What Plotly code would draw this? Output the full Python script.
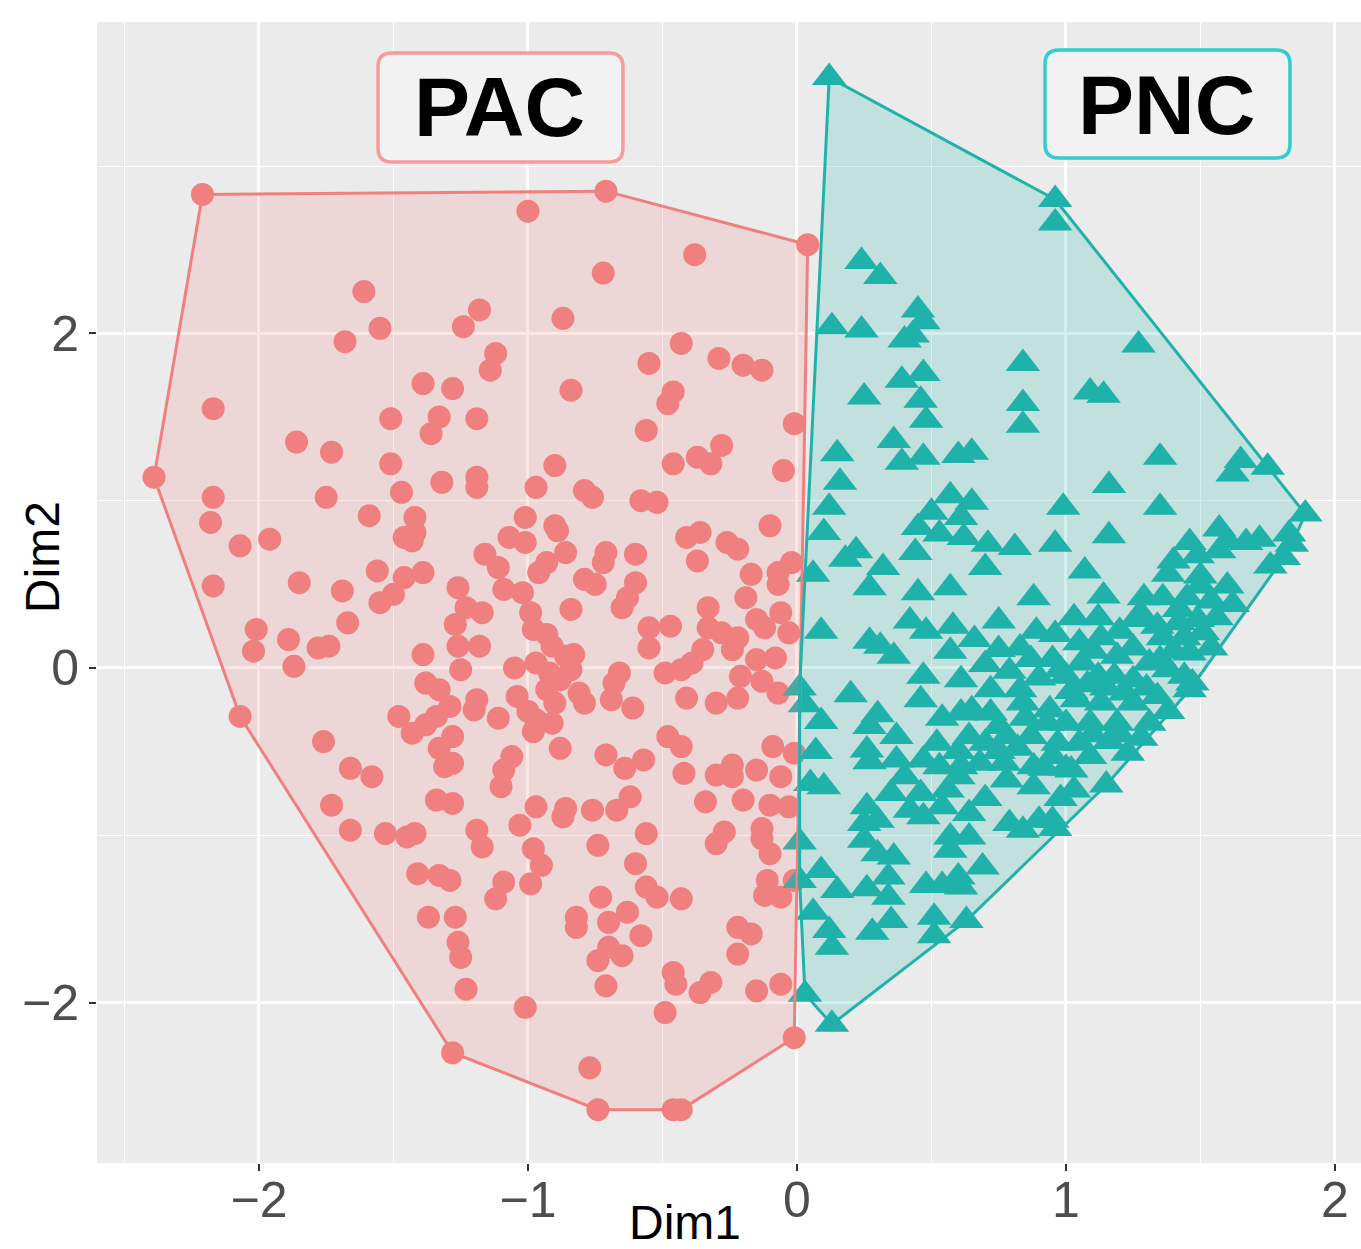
import plotly.graph_objects as go

# ---------------- data (Dim1, Dim2) ----------------
group_names = ["PAC", "PNC"]

pac_points = [
    (-2.21, 2.83), (-0.71, 2.85), (0.04, 2.53), (-0.01, -2.21), (-0.43, -2.64),
    (-0.46, -2.64), (-0.74, -2.64), (-1.28, -2.30), (-2.07, -0.29), (-2.39, 1.14),
    (-1.00, 2.73), (-0.38, 2.47), (-0.72, 2.36), (-1.61, 2.25), (-1.18, 2.14),
    (-1.55, 2.03), (-1.68, 1.95), (-1.24, 2.04), (-0.87, 2.09), (-1.12, 1.88),
    (-1.14, 1.78), (-0.43, 1.94), (-0.55, 1.82), (-0.29, 1.85), (-0.20, 1.81),
    (-0.13, 1.78), (-1.39, 1.70), (-1.28, 1.67), (-0.84, 1.66), (-0.46, 1.65),
    (-0.48, 1.58), (-2.17, 1.55), (-1.51, 1.49), (-1.33, 1.50), (-1.19, 1.49),
    (-0.01, 1.46), (-1.36, 1.40), (-0.56, 1.42), (-1.86, 1.35), (-0.28, 1.33),
    (-1.73, 1.29), (-0.37, 1.26), (-0.32, 1.22), (-0.46, 1.22), (-1.51, 1.22),
    (-0.90, 1.21), (-0.05, 1.18), (-1.19, 1.14), (-1.32, 1.11), (-1.19, 1.08),
    (-0.97, 1.08), (-0.79, 1.06), (-1.47, 1.05), (-0.76, 1.02), (-2.17, 1.02),
    (-1.75, 1.02), (-0.58, 1.00), (-0.52, 0.99),
    (-2.18, 0.87), (-2.07, 0.73), (-1.96, 0.77), (-1.59, 0.91), (-1.42, 0.90),
    (-1.46, 0.78), (-1.42, 0.81), (-1.43, 0.76), (-2.17, 0.49), (-1.85, 0.51),
    (-1.69, 0.46), (-1.56, 0.58), (-1.46, 0.54), (-1.39, 0.57), (-1.50, 0.44),
    (-1.55, 0.39), (-1.26, 0.48), (-1.23, 0.36), (-1.16, 0.68), (-1.67, 0.27),
    (-2.01, 0.23), (-2.02, 0.10), (-1.89, 0.17), (-1.87, 0.01), (-1.78, 0.12),
    (-1.74, 0.13), (-1.39, 0.08), (-1.27, 0.26), (-1.26, 0.13), (-1.18, 0.13),
    (-1.25, -0.01), (-1.38, -0.09), (-1.33, -0.13), (-1.48, -0.29), (-1.43, -0.39),
    (-1.38, -0.34), (-1.34, -0.29), (-1.29, -0.23), (-1.20, -0.25), (-1.19, -0.19),
    (-1.28, -0.41), (-1.33, -0.48), (-1.31, -0.59), (-1.28, -0.57), (-1.76, -0.44),
    (-1.66, -0.60), (-1.58, -0.65), (-1.73, -0.82), (-1.34, -0.79), (-1.28, -0.81),
    (-1.01, 0.90), (-0.90, 0.85), (-0.89, 0.82), (-1.07, 0.78), (-1.01, 0.75),
    (-0.86, 0.69), (-1.11, 0.60), (-0.93, 0.63), (-0.96, 0.57), (-0.71, 0.69),
    (-0.72, 0.63), (-0.60, 0.68), (-0.79, 0.53), (-0.75, 0.50), (-0.60, 0.51),
    (-0.63, 0.42), (-0.65, 0.36), (-0.41, 0.78), (-0.36, 0.81), (-0.37, 0.64),
    (-0.26, 0.75), (-0.22, 0.71), (-0.10, 0.85), (-0.02, 0.63), (-0.07, 0.57),
    (-0.17, 0.56), (-0.07, 0.50), (-0.19, 0.42), (-1.09, 0.47), (-1.02, 0.45),
    (-1.17, 0.33), (-0.99, 0.33), (-0.84, 0.35), (-0.98, 0.23), (-0.93, 0.20),
    (-1.05, 0.00), (-0.97, 0.03), (-0.91, 0.13), (-0.86, 0.07), (-0.83, 0.08),
    (-0.92, -0.03), (-0.88, -0.07), (-0.84, -0.01), (-0.93, -0.13), (-0.81, -0.15),
    (-0.79, -0.21), (-1.04, -0.17), (-1.11, -0.30), (-1.00, -0.26), (-0.97, -0.31),
    (-0.91, -0.33), (-0.98, -0.38), (-0.90, -0.21), (-0.88, -0.48), (-0.68, -0.09),
    (-0.66, -0.03), (-0.69, -0.19), (-0.61, -0.24), (-0.55, 0.24), (-0.47, 0.25),
    (-0.55, 0.12), (-0.49, -0.03), (-0.43, -0.01), (-0.39, 0.03), (-0.35, 0.11),
    (-0.33, 0.36), (-0.33, 0.24), (-0.28, 0.21), (-0.22, 0.18), (-0.24, 0.11),
    (-0.15, 0.29), (-0.12, 0.24), (-0.06, 0.33), (-0.03, 0.21), (-0.15, 0.05),
    (-0.08, 0.06), (-0.21, -0.05), (-0.13, -0.08), (-0.07, -0.15), (-0.22, -0.18),
    (-0.30, -0.21), (-0.41, -0.18), (-0.48, -0.41), (-0.43, -0.47), (-0.71, -0.52),
    (-0.64, -0.60), (-0.57, -0.55), (-1.06, -0.53), (-1.09, -0.61), (-1.10, -0.71),
    (-0.42, -0.63), (-0.30, -0.64), (-0.24, -0.58), (-0.24, -0.65), (-0.15, -0.61),
    (-0.09, -0.47), (-0.01, -0.51), (-0.06, -0.65), (-0.62, -0.77), (-0.97, -0.83),
    (-0.86, -0.84), (-0.76, -0.85), (-0.67, -0.85), (-0.34, -0.80), (-0.20, -0.79),
    (-0.10, -0.82), (-0.03, -0.83),
    (-1.66, -0.97), (-1.53, -0.99), (-1.45, -1.01), (-1.42, -0.99), (-1.19, -0.97),
    (-1.17, -1.07), (-1.41, -1.23), (-1.33, -1.24), (-1.29, -1.27), (-1.37, -1.49),
    (-1.27, -1.49), (-1.26, -1.64), (-1.25, -1.73), (-1.23, -1.92),
    (-1.03, -0.94), (-0.87, -0.89), (-0.56, -0.99), (-0.74, -1.06), (-0.98, -1.08),
    (-0.95, -1.18), (-0.60, -1.17), (-1.09, -1.28), (-1.12, -1.38), (-0.99, -1.29),
    (-0.73, -1.37), (-0.56, -1.31), (-0.52, -1.37), (-0.43, -1.38), (-0.63, -1.46),
    (-0.82, -1.49), (-0.82, -1.55), (-0.70, -1.52), (-0.58, -1.60), (-0.70, -1.67),
    (-0.74, -1.75), (-0.65, -1.72), (-0.71, -1.90), (-0.46, -1.82), (-0.45, -1.89),
    (-0.36, -1.94), (-0.32, -1.88), (-0.15, -1.93), (-0.06, -1.89), (-0.22, -1.55),
    (-0.17, -1.59), (-0.22, -1.71), (-1.01, -2.03), (-0.49, -2.06), (-0.77, -2.39),
    (-0.30, -1.05), (-0.27, -0.98), (-0.13, -0.96), (-0.13, -1.02), (-0.10, -1.11),
    (-0.11, -1.27), (-0.12, -1.36), (-0.06, -1.37), (-0.01, -1.27),
]

pnc_points = [
    (0.12, 3.53), (0.96, 2.80), (0.96, 2.66), (0.24, 2.43), (0.31, 2.34),
    (0.13, 2.04), (0.24, 2.02), (0.45, 2.14), (0.47, 2.07), (0.40, 1.96),
    (0.43, 1.99), (0.84, 1.82), (0.39, 1.72), (0.47, 1.76), (1.27, 1.93),
    (0.25, 1.62), (0.46, 1.60), (0.48, 1.48), (0.84, 1.58), (0.84, 1.45),
    (0.15, 1.28), (0.36, 1.36), (0.39, 1.23), (0.47, 1.26), (0.60, 1.27),
    (0.65, 1.29), (0.16, 1.11), (0.12, 0.96), (0.10, 0.81), (0.18, 0.65),
    (0.22, 0.70), (0.06, 0.56), (0.32, 0.60), (0.27, 0.48), (0.57, 1.03),
    (0.65, 0.99), (0.50, 0.93), (0.45, 0.84), (0.53, 0.80), (0.61, 0.90),
    (0.62, 0.78), (0.44, 0.69), (0.71, 0.74), (0.81, 0.72), (0.70, 0.60),
    (0.99, 0.96), (0.96, 0.74), (0.45, 0.45), (0.57, 0.48), (0.88, 0.42),
    (0.09, 0.22), (0.42, 0.28), (0.48, 0.22), (0.27, 0.16), (0.31, 0.13),
    (0.36, 0.07), (0.58, 0.25), (0.57, 0.10), (0.75, 0.28), (0.89, 0.22),
    (0.66, 0.17), (0.75, 0.11), (0.83, 0.12), (0.87, 0.05), (0.70, 0.02),
    (0.79, -0.02), (0.90, -0.06), (0.61, -0.07), (0.72, -0.13), (0.83, -0.13),
    (0.47, -0.05), (0.96, 0.20),
    (1.09, 1.65), (1.14, 1.63), (1.35, 1.26), (1.16, 1.09), (1.65, 1.24),
    (1.62, 1.16), (1.75, 1.20), (1.35, 0.96), (1.89, 0.92), (1.16, 0.79),
    (1.57, 0.83), (1.60, 0.76), (1.67, 0.75), (1.72, 0.77), (1.83, 0.80),
    (1.84, 0.74), (1.81, 0.66), (1.76, 0.61), (1.57, 0.70), (1.46, 0.75),
    (1.40, 0.64), (1.38, 0.56), (1.49, 0.67), (1.07, 0.58), (1.14, 0.43),
    (1.50, 0.49), (1.60, 0.49), (1.45, 0.42), (1.54, 0.40), (1.62, 0.38),
    (1.29, 0.42), (1.36, 0.42), (1.26, 0.29), (1.34, 0.25), (1.42, 0.27),
    (1.49, 0.29), (1.56, 0.30), (1.03, 0.30), (1.12, 0.30), (1.05, 0.15),
    (1.13, 0.18), (1.19, 0.07), (1.25, 0.12), (1.36, 0.18), (1.44, 0.18),
    (1.51, 0.21), (1.54, 0.12), (1.46, 0.09), (1.31, 0.03), (1.38, -0.01),
    (1.44, -0.05), (1.47, -0.09), (0.98, -0.01), (1.06, 0.03), (1.12, -0.05),
    (1.18, -0.05), (1.25, -0.07), (1.02, -0.14),
    (0.20, -0.16), (0.46, -0.19), (0.03, -0.22), (0.09, -0.32), (0.30, -0.28),
    (0.27, -0.35), (0.37, -0.41), (0.54, -0.30), (0.61, -0.27), (0.65, -0.25),
    (0.72, -0.27), (0.84, -0.21), (0.93, -0.33), (0.78, -0.41), (0.87, -0.41),
    (0.64, -0.41), (0.07, -0.50), (0.26, -0.49), (0.27, -0.56), (0.37, -0.55),
    (0.47, -0.55), (0.53, -0.59), (0.61, -0.59), (0.68, -0.57), (0.77, -0.57),
    (0.88, -0.59), (0.95, -0.53), (0.78, -0.67), (0.88, -0.71), (0.05, -0.69),
    (0.10, -0.71), (0.35, -0.75), (0.46, -0.75), (0.56, -0.73), (0.42, -0.85),
    (0.47, -0.89), (0.54, -0.83), (0.64, -0.87), (0.26, -0.83), (0.25, -0.93),
    (0.30, -0.91), (0.79, -0.93), (0.84, -0.97), (0.90, -0.91), (0.95, -0.91),
    (0.01, -1.04), (0.25, -1.03), (0.57, -1.01), (0.64, -1.01), (0.57, -1.09),
    (0.30, -1.11), (0.36, -1.13), (0.09, -1.21), (0.01, -1.27), (0.15, -1.33),
    (0.26, -1.32), (0.34, -1.25), (0.34, -1.37), (0.48, -1.30), (0.54, -1.30),
    (0.60, -1.25), (0.61, -1.31), (0.69, -1.19), (0.06, -1.46), (0.35, -1.51),
    (0.28, -1.58), (0.51, -1.49), (0.51, -1.60), (0.63, -1.51), (0.12, -1.57),
    (0.13, -1.67), (0.03, -1.95), (0.13, -2.13),
    (0.96, -0.96), (1.15, -0.70), (1.03, -0.73), (1.02, -0.61), (1.09, -0.53),
    (1.23, -0.51), (1.16, -0.44), (0.97, -0.45), (1.00, -0.33), (1.09, -0.33),
    (1.19, -0.33), (1.31, -0.33), (1.38, -0.26), (1.25, -0.21), (1.34, -0.17),
    (1.46, -0.13), (1.04, -0.19), (1.13, -0.21), (0.94, -0.25), (0.01, -0.12),
    # dense overlapping cluster, bottom right
    (0.70, -0.45), (0.75, -0.50), (0.82, -0.48), (0.92, -0.60), (1.00, -0.60),
    (1.05, -0.45), (1.10, -0.40), (1.20, -0.40), (1.28, -0.42), (1.08, -0.10),
    (1.15, -0.12), (1.22, -0.15), (1.30, -0.12), (1.35, 0.05), (1.40, 0.10),
    (1.20, 0.22), (1.28, 0.32), (1.10, 0.10), (0.95, 0.05), (1.00, -0.05),
    (0.85, -0.30), (0.75, -0.35), (0.60, -0.50), (0.52, -0.45), (0.40, -0.65),
    (0.98, -0.78), (0.70, -0.78), (0.60, -0.65), (1.50, 0.55), (1.42, 0.35),
]

x_ticks = [-2, -1, 0, 1, 2]
y_ticks = [-2, 0, 2]
x_minor = [-2.5, -1.5, -0.5, 0.5, 1.5]
y_minor = [-3, -1, 1, 3]

# ---------------- helpers ----------------
def convex_hull(points):
    pts = sorted(set(points))

    def cross(o, a, b):
        return (a[0] - o[0]) * (b[1] - o[1]) - (a[1] - o[1]) * (b[0] - o[0])

    lower = []
    for p in pts:
        while len(lower) >= 2 and cross(lower[-2], lower[-1], p) <= 0:
            lower.pop()
        lower.append(p)
    upper = []
    for p in reversed(pts):
        while len(upper) >= 2 and cross(upper[-2], upper[-1], p) <= 0:
            upper.pop()
        upper.append(p)
    hull = lower[:-1] + upper[:-1]
    return hull + [hull[0]]


def rounded_rect(x0, y0, x1, y1, rx, ry):
    return (f"M{x0 + rx},{y0} L{x1 - rx},{y0} Q{x1},{y0} {x1},{y0 + ry} "
            f"L{x1},{y1 - ry} Q{x1},{y1} {x1 - rx},{y1} L{x0 + rx},{y1} "
            f"Q{x0},{y1} {x0},{y1 - ry} L{x0},{y0 + ry} Q{x0},{y0} {x0 + rx},{y0} Z")


FONT = "Liberation Sans, Arial, sans-serif"
PAC_COL = "#F08080"
PNC_COL = "#20B2AA"

groups = [
    (group_names[0], pac_points, PAC_COL, "rgba(240,128,128,0.2)", "circle", 23),
    (group_names[1], pnc_points, PNC_COL, "rgba(32,178,170,0.2)", "triangle-up", 30),
]

fig = go.Figure()
for name, pts, col, fillcol, sym, size in groups:
    fig.add_trace(go.Scatter(
        x=[p[0] for p in pts], y=[p[1] for p in pts], mode="markers", name=name,
        marker=dict(symbol=sym, size=size, color=col, line=dict(width=0)),
        showlegend=False, hoverinfo="skip"))
for name, pts, col, fillcol, sym, size in groups:
    h = convex_hull(pts)
    fig.add_trace(go.Scatter(
        x=[p[0] for p in h], y=[p[1] for p in h], mode="lines", fill="toself",
        fillcolor=fillcol, line=dict(color=col, width=3),
        showlegend=False, hoverinfo="skip"))

axis_common = dict(
    showgrid=True, gridcolor="white", gridwidth=2.6, zeroline=False,
    ticks="outside", ticklen=7, tickwidth=2, tickcolor="#333333",
    tickfont=dict(family=FONT, size=50, color="#4D4D4D"),
    showline=False,
)
fig.update_xaxes(range=[-2.602, 2.097], tickvals=x_ticks, ticklabelstandoff=-14,
                 minor=dict(tickvals=x_minor, showgrid=True, gridcolor="white",
                            gridwidth=1.3, ticks=""),
                 **axis_common)
fig.update_yaxes(range=[-2.959, 3.861], tickvals=y_ticks,
                 minor=dict(tickvals=y_minor, showgrid=True, gridcolor="white",
                            gridwidth=1.3, ticks=""),
                 **axis_common)

# group label boxes
boxes = [
    ("PAC", (0.2223, 0.8773, 0.4161, 0.9729), "#F99A9A", (0.3188, 0.9255)),
    ("PNC", (0.7500, 0.8808, 0.9438, 0.9755), "#33CCCC", (0.8465, 0.9273)),
]
shapes = []
annotations = []
for label, (x0, y0, x1, y1), bcol, (tx, ty) in boxes:
    shapes.append(dict(type="path", xref="paper", yref="paper",
                       path=rounded_rect(x0, y0, x1, y1, 0.011, 0.012),
                       fillcolor="#F2F2F2", line=dict(color=bcol, width=3.5)))
    annotations.append(dict(text=f"<b>{label}</b>", x=tx, y=ty, xref="paper", yref="paper",
                            showarrow=False, xanchor="center", yanchor="middle",
                            font=dict(family=FONT, size=84, color="black")))

annotations.append(dict(text="Dim1", x=0.4652, y=-0.0520, xref="paper", yref="paper",
                        showarrow=False, xanchor="center", yanchor="middle",
                        font=dict(family=FONT, size=48, color="black")))
annotations.append(dict(text="Dim2", x=-0.0435, y=0.531, xref="paper", yref="paper",
                        showarrow=False, xanchor="center", yanchor="middle", textangle=-90,
                        font=dict(family=FONT, size=48, color="black")))

fig.update_layout(
    width=1361, height=1249,
    margin=dict(l=97, r=0, t=22, b=86),
    paper_bgcolor="white", plot_bgcolor="#EBEBEB",
    shapes=shapes, annotations=annotations, showlegend=False,
)

fig.write_html("out.html")
